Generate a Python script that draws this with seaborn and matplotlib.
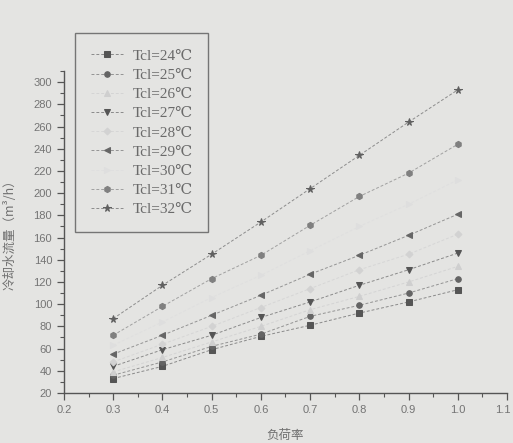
import numpy as np
import pandas as pd
import seaborn as sns
import matplotlib
matplotlib.use("Agg")
import matplotlib.pyplot as plt
from matplotlib.ticker import MultipleLocator
from matplotlib.transforms import ScaledTranslation

# Load ratio (x) and cooling-water flow (y) for each condenser inlet temperature
load_ratio = [0.3, 0.4, 0.5, 0.6, 0.7, 0.8, 0.9, 1.0]
tcl_labels = ["Tcl=24℃", "Tcl=25℃", "Tcl=26℃", "Tcl=27℃", "Tcl=28℃",
              "Tcl=29℃", "Tcl=30℃", "Tcl=31℃", "Tcl=32℃"]
flow_24 = [33, 44, 59, 71, 81, 92, 102, 113]
flow_25 = [36, 48, 62, 73, 89, 99, 110, 123]
flow_26 = [39, 52, 66, 80, 95, 107, 120, 134]
flow_27 = [44, 59, 72, 88, 102, 117, 131, 146]
flow_28 = [48, 64, 80, 97, 114, 131, 145, 163]
flow_29 = [55, 72, 90, 108, 127, 144, 162, 181]
flow_30 = [63, 84, 106, 126, 148, 170, 190, 212]
flow_31 = [72, 98, 123, 144, 171, 197, 218, 244]
flow_32 = [87, 117, 145, 174, 204, 234, 264, 293]
flows = [flow_24, flow_25, flow_26, flow_27, flow_28,
         flow_29, flow_30, flow_31, flow_32]

markers = ["s", "o", "^", "v", "D", "<", ">", "h", "*"]
marker_colors = ["#555555", "#646464", "#cfcfcf", "#555555", "#d2d2d2",
                 "#666666", "#dedede", "#808080", "#606060"]
line_colors = ["#8a8a8a", "#939393", "#d4d4d4", "#8a8a8a", "#d6d6d6",
               "#949494", "#dfdfdf", "#a0a0a0", "#8c8c8c"]
msizes = [4.5, 4.0, 4.0, 5.0, 3.5, 4.5, 4.0, 4.5, 5.5]

df = pd.concat(
    [pd.DataFrame({"load": load_ratio, "flow": f, "series": lab})
     for f, lab in zip(flows, tcl_labels)],
    ignore_index=True,
)

BG = "#e4e4e2"
sns.set_style("ticks")
plt.rcParams["font.family"] = ["Liberation Sans", "Noto Sans CJK SC", "DejaVu Sans"]

fig = plt.figure(figsize=(5.13, 4.43), dpi=100, facecolor=BG)
ax = fig.add_axes([64 / 513, 1 - 393 / 443, (507 - 64) / 513, (393 - 71) / 443])
ax.set_facecolor(BG)

for lab, m, mc, lc, ms in zip(tcl_labels, markers, marker_colors,
                              line_colors, msizes):
    sub = df[df["series"] == lab]
    sns.lineplot(data=sub, x="load", y="flow", ax=ax, color=lc, marker=m,
                 markersize=ms, markeredgecolor=mc, markerfacecolor=mc,
                 linewidth=0.7, linestyle=(0, (3, 2)), label=lab,
                 legend=False)

ax.set_xlim(0.2, 1.1)
ax.set_ylim(20, 310)
ax.xaxis.set_minor_locator(MultipleLocator(0.05))
ax.yaxis.set_minor_locator(MultipleLocator(10))
ax.set_yticks(np.arange(20, 301, 20))
ax.set_xticks(np.round(np.arange(0.2, 1.11, 0.1), 1))
ax.set_xticklabels([f"{v:.1f}" for v in np.arange(0.2, 1.11, 0.1)])

for side in ["top", "right"]:
    ax.spines[side].set_visible(False)
for side in ["left", "bottom"]:
    ax.spines[side].set_color("#555555")
    ax.spines[side].set_linewidth(1.0)
ax.tick_params(which="major", length=5, width=0.9, color="#555555",
               labelsize=8, labelcolor="#747474", direction="out")
ax.tick_params(which="minor", length=3, width=0.8, color="#555555",
               direction="out")

# keep the last x tick label inside the canvas
last = ax.get_xticklabels()[-1]
last.set_transform(last.get_transform()
                   + ScaledTranslation(-4 / 100, 0, fig.dpi_scale_trans))

ax.set_xlabel("负荷率", fontsize=9, color="#707070", labelpad=10,
              family=["Noto Sans CJK SC", "DejaVu Sans"])
ax.set_ylabel("冷却水流量（m³/h）", fontsize=9, color="#707070", labelpad=12,
              family=["Noto Sans CJK SC", "DejaVu Sans"])

handles, labels = ax.get_legend_handles_labels()
leg = fig.legend(handles, labels, loc="upper left",
                 bbox_to_anchor=(75 / 513, 1 - 33 / 443),
                 bbox_transform=fig.transFigure,
                 prop={"family": ["Liberation Serif", "DejaVu Serif"], "size": 11},
                 frameon=True, fancybox=False, handlelength=2.1,
                 handletextpad=0.6, labelspacing=0.36, borderpad=1.05,
                 borderaxespad=0)
leg.get_frame().set_edgecolor("#5a5a5a")
leg.get_frame().set_facecolor(BG)
leg.get_frame().set_linewidth(1.0)
for t in leg.get_texts():
    t.set_color("#6a6a6a")

fig.savefig("out.png", dpi=100, facecolor=BG)
